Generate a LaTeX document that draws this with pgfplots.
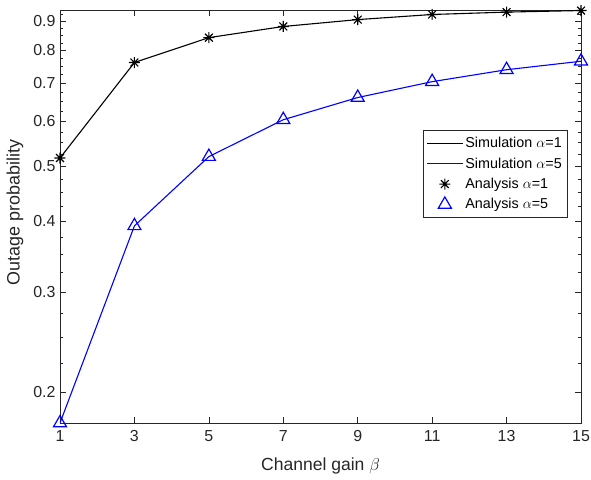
\documentclass[border=0pt]{standalone}
\usepackage{pgfplots}
\pgfplotsset{compat=1.18}
\usepackage{fontspec}
\setmainfont{Liberation Sans}
\definecolor{axgray}{rgb}{0.15,0.15,0.15}
\pgfdeclareplotmark{mstar}{%
  \pgfpathmoveto{\pgfqpoint{-\pgfplotmarksize}{0pt}}%
  \pgfpathlineto{\pgfqpoint{\pgfplotmarksize}{0pt}}%
  \pgfpathmoveto{\pgfqpoint{0pt}{-\pgfplotmarksize}}%
  \pgfpathlineto{\pgfqpoint{0pt}{\pgfplotmarksize}}%
  \pgfpathmoveto{\pgfqpoint{-0.7071\pgfplotmarksize}{-0.7071\pgfplotmarksize}}%
  \pgfpathlineto{\pgfqpoint{0.7071\pgfplotmarksize}{0.7071\pgfplotmarksize}}%
  \pgfpathmoveto{\pgfqpoint{-0.7071\pgfplotmarksize}{0.7071\pgfplotmarksize}}%
  \pgfpathlineto{\pgfqpoint{0.7071\pgfplotmarksize}{-0.7071\pgfplotmarksize}}%
  \pgfusepathqstroke}
\pgfplotstableread{
x   s1     s5
1   0.517  0.1763
3   0.762  0.3926
5   0.843  0.520
7   0.882  0.604
9   0.907  0.661
11  0.926  0.705
13  0.935  0.740
15  0.941  0.766
}\datatab
\begin{document}
\begin{tikzpicture}
\begin{axis}[
  scale only axis, width=521bp, height=413bp,
  xmin=1, xmax=15, ymode=log, ymin=0.1763, ymax=0.943,
  xtick={1,3,5,7,9,11,13,15},
  ytick={0.2,0.3,0.4,0.5,0.6,0.7,0.8,0.9},
  yticklabels={0.2,0.3,0.4,0.5,0.6,0.7,0.8,0.9},
  minor ytick={0.225,0.25,0.275,0.325,0.35,0.375,0.425,0.45,0.475,0.525,0.55,0.575,0.625,0.65,0.675,0.725,0.75,0.775,0.825,0.85,0.875,0.925},
  /pgf/number format/assume math mode=true,
  axis line style={axgray, line width=0.6bp},
  every tick/.style={axgray, line width=0.6bp},
  major tick length=6bp, minor tick length=3.5bp,
  tick label style={font=\fontsize{16}{19}\selectfont, text=axgray},
  xticklabel style={yshift=-4bp},
  yticklabel style={xshift=-1bp},
  xlabel={Channel gain $\beta$},
  ylabel={Outage probability},
  every axis x label/.style={at={(rel axis cs:0.5,0)}, anchor=center, yshift=-43bp, font=\fontsize{17.6}{20}\selectfont, text=axgray},
  every axis y label/.style={at={(rel axis cs:0,0.5)}, rotate=90, anchor=center, yshift=45bp, xshift=4bp, font=\fontsize{18}{20}\selectfont, text=axgray},
  legend cell align=left,
  legend style={at={(rel axis cs:0.973,0.709)}, anchor=north east, draw=axgray, fill=white,
    font=\fontsize{14.4}{17}\selectfont, inner xsep=3bp, inner ysep=3bp,
    nodes={inner xsep=2bp, inner ysep=4.2bp}},
]
\addplot[color=black, line width=1.1bp, forget plot] table[x=x,y=s1]{\datatab};
\addplot[color=blue, line width=1.1bp, forget plot] table[x=x,y=s5]{\datatab};
\addplot[color=black, only marks, mark=mstar, mark size=5.5bp, line width=1.1bp, forget plot] table[x=x,y=s1]{\datatab};
\addplot[color=blue, only marks, mark=triangle, mark size=7.5bp, line width=1.2bp, forget plot] table[x=x,y=s5]{\datatab};
\addlegendimage{legend image code/.code={\pgfsetstrokecolor{black}\pgfsetlinewidth{1.1bp}\pgfpathmoveto{\pgfqpoint{0bp}{0bp}}\pgfpathlineto{\pgfqpoint{36bp}{0bp}}\pgfusepath{stroke}}}
\addlegendentry{Simulation $\alpha$=1}
\addlegendimage{legend image code/.code={\pgfsetstrokecolor{blue}\pgfsetlinewidth{1.1bp}\pgfpathmoveto{\pgfqpoint{0bp}{0bp}}\pgfpathlineto{\pgfqpoint{36bp}{0bp}}\pgfusepath{stroke}}}
\addlegendentry{Simulation $\alpha$=5}
\addlegendimage{legend image code/.code={\draw[draw=black, line width=1.1bp] plot[mark=mstar, mark size=5.5bp] coordinates {(18bp,0bp)};}}
\addlegendentry{Analysis $\alpha$=1}
\addlegendimage{legend image code/.code={\draw[draw=blue, line width=1.2bp] plot[mark=triangle, mark size=7.5bp] coordinates {(18bp,0bp)};}}
\addlegendentry{Analysis $\alpha$=5}
\end{axis}
\pgfresetboundingbox
\useasboundingbox ([xshift=-60bp,yshift=-57bp]current axis.south west) rectangle ([xshift=10bp,yshift=10bp]current axis.north east);
\end{tikzpicture}
\end{document}
